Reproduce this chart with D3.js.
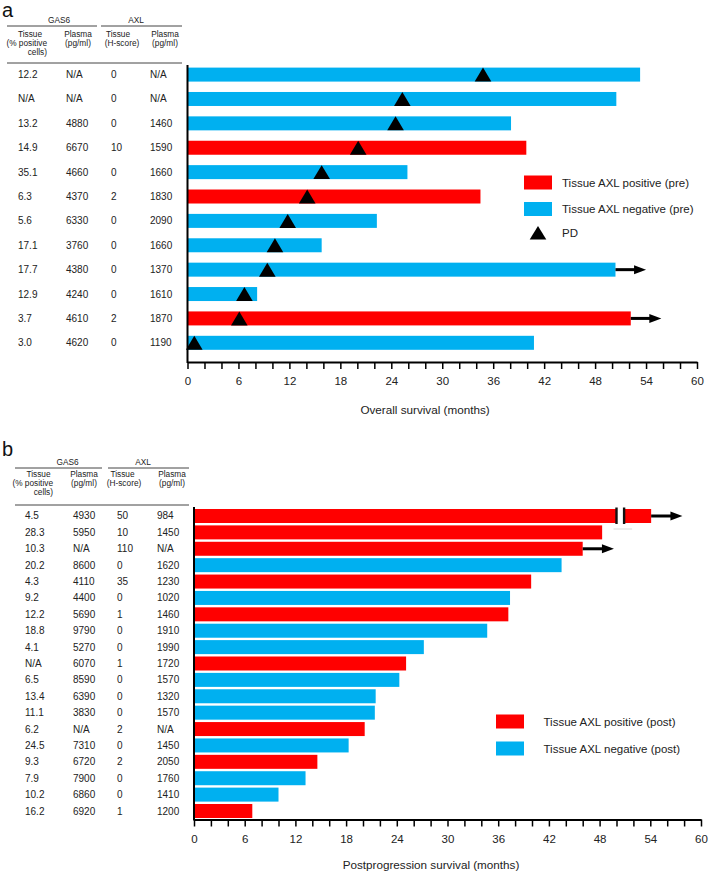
<!DOCTYPE html>
<html>
<head>
<meta charset="utf-8">
<script src="https://cdn.jsdelivr.net/npm/d3@7"></script>
<style>
  html, body { margin: 0; padding: 0; background: #fff; }
  svg { display: block; font-family: "Liberation Sans", Arial, sans-serif; }
</style>
</head>
<body>
<svg id="chart" width="709" height="872"></svg>
<script>
// ---------------- DATA ----------------
// Panel a (pre-treatment)
const gas6TissueA = ["12.2","N/A","13.2","14.9","35.1","6.3","5.6","17.1","17.7","12.9","3.7","3.0"];
const gas6PlasmaA = ["N/A","N/A","4880","6670","4660","4370","6330","3760","4380","4240","4610","4620"];
const axlTissueA  = ["0","0","0","10","0","2","0","0","0","0","2","0"];
const axlPlasmaA  = ["N/A","N/A","1460","1590","1660","1830","2090","1660","1370","1610","1870","1190"];
const osMonths    = [53.3, 50.5, 38.1, 39.9, 25.9, 34.5, 22.3, 15.8, 50.4, 8.2, 52.2, 40.8];
const pdMonths    = [34.8, 25.3, 24.5, 20.1, 15.8, 14.1, 11.8, 10.3, 9.4, 6.7, 6.1, 0.8];
const osArrowTo   = [null, null, null, null, null, null, null, null, 54.0, null, 55.8, null];

// Panel b (post-progression)
const gas6TissueB = ["4.5","28.3","10.3","20.2","4.3","9.2","12.2","18.8","4.1","N/A","6.5","13.4","11.1","6.2","24.5","9.3","7.9","10.2","16.2"];
const gas6PlasmaB = ["4930","5950","N/A","8600","4110","4400","5690","9790","5270","6070","8590","6390","3830","N/A","7310","6720","7900","6860","6920"];
const axlTissueB  = ["50","10","110","0","35","0","1","0","0","1","0","0","0","2","0","2","0","0","1"];
const axlPlasmaB  = ["984","1450","N/A","1620","1230","1020","1460","1910","1990","1720","1570","1320","1570","N/A","1450","2050","1760","1410","1200"];
const ppsMonths   = [54.1, 48.3, 46.0, 43.5, 39.9, 37.4, 37.2, 34.7, 27.2, 25.1, 24.3, 21.5, 21.4, 20.2, 18.3, 14.6, 13.2, 10.0, 6.9];
const ppsArrowTo  = [57.8, null, 49.7, null, null, null, null, null, null, null, null, null, null, null, null, null, null, null, null];
const ppsBreak    = [[50.0, 50.9], null, null, null, null, null, null, null, null, null, null, null, null, null, null, null, null, null, null];

const xTickLabels = [0, 6, 12, 18, 24, 30, 36, 42, 48, 54, 60];
const xMinorTicks = [0,2,4,6,8,10,12,14,16,18,20,22,24,26,28,30,32,34,36,38,40,42,44,46,48,50,52,54,56,58,60];

const legendA = ["Tissue AXL positive (pre)", "Tissue AXL negative (pre)", "PD"];
const legendB = ["Tissue AXL positive (post)", "Tissue AXL negative (post)"];

const RED = "#FF0000", BLUE = "#00B0F0";
// ---------------- DRAW ----------------
const svg = d3.select("#chart");
const FONT = '"Liberation Sans", Arial, sans-serif';

function header(g, cfg) {
  const t = (x, y, s, anchor) => g.append("text").attr("x", x).attr("y", y)
      .attr("text-anchor", anchor || "middle").attr("font-size", 8.3).attr("fill", "#222").text(s);
  t(cfg.gasX, cfg.y0, "GAS6");
  t(cfg.axlX, cfg.y0, "AXL");
  g.append("line").attr("x1", cfg.l1[0]).attr("x2", cfg.l1[1]).attr("y1", cfg.ly).attr("y2", cfg.ly).attr("stroke", "#444").attr("stroke-width", 1);
  g.append("line").attr("x1", cfg.l2[0]).attr("x2", cfg.l2[1]).attr("y1", cfg.ly).attr("y2", cfg.ly).attr("stroke", "#444").attr("stroke-width", 1);
  t(cfg.c1, cfg.r1, "Tissue");
  t(cfg.c1r, cfg.r2, "(% positive", "end");
  t(cfg.c1r, cfg.r3, "cells)", "end");
  t(cfg.c2, cfg.r1, "Plasma");
  t(cfg.c2, cfg.r2, "(pg/ml)");
  t(cfg.c3, cfg.r1, "Tissue");
  t(cfg.c3b, cfg.r2, "(H-score)");
  t(cfg.c4, cfg.r1, "Plasma");
  t(cfg.c4, cfg.r2, "(pg/ml)");
  g.append("line").attr("x1", cfg.l1[0]).attr("x2", cfg.l2[1]).attr("y1", cfg.by).attr("y2", cfg.by).attr("stroke", "#444").attr("stroke-width", 1);
}

function panel(cfg) {
  const g = svg.append("g");
  const n = cfg.values.length;
  const idx = d3.range(n);
  const x = d3.scaleLinear().domain([0, 60]).range([cfg.x0, cfg.x1]);
  const y = d3.scaleBand().domain(idx).range([cfg.yTop, cfg.yBot]).paddingInner(cfg.pad).paddingOuter(0);
  const bw = y.bandwidth();

  // Table columns
  const cols = [cfg.colGasT, cfg.colGasP, cfg.colAxlT, cfg.colAxlP];
  cfg.table.forEach((arr, ci) => {
    g.selectAll(null).data(arr).enter().append("text")
      .attr("x", cols[ci]).attr("y", (d, i) => y(i) + bw / 2).attr("dy", "0.35em")
      .attr("font-size", 10).attr("fill", "#222").text(d => d);
  });

  // Bars
  g.selectAll(null).data(cfg.values).enter().append("rect")
    .attr("x", x(0)).attr("y", (d, i) => y(i))
    .attr("width", d => x(d) - x(0)).attr("height", bw)
    .attr("fill", (d, i) => +cfg.status[i] > 0 ? RED : BLUE);

  // Break marks
  if (cfg.breaks) {
    cfg.breaks.forEach((b, i) => {
      if (!b) return;
      g.append("rect").attr("x", x(b[0])).attr("y", y(i) - 1).attr("width", x(b[1]) - x(b[0])).attr("height", bw + 2).attr("fill", "#fff");
      b.forEach(v => g.append("line").attr("x1", x(v)).attr("x2", x(v)).attr("y1", y(i) - 1.5).attr("y2", y(i) + bw + 1)
        .attr("stroke", "#111").attr("stroke-width", 2.4));
      g.append("line").attr("x1", x(b[0]) - 3).attr("x2", x(b[1]) + 8).attr("y1", y(i) + bw + 6).attr("y2", y(i) + bw + 6)
        .attr("stroke", "#e6e6e6").attr("stroke-width", 1.5);
    });
  }

  // Arrows
  cfg.arrows.forEach((a, i) => {
    if (a == null) return;
    const cy = y(i) + bw / 2, xs = x(cfg.values[i]), xe = x(a);
    g.append("line").attr("x1", xs).attr("x2", xe - 10).attr("y1", cy).attr("y2", cy).attr("stroke", "#000").attr("stroke-width", 3);
    g.append("path").attr("d", `M${xe},${cy} L${xe - 12},${cy - 4.5} L${xe - 12},${cy + 4.5} Z`).attr("fill", "#000");
  });

  // PD triangles
  if (cfg.pd) {
    g.selectAll(null).data(cfg.pd).enter().append("path")
      .attr("d", (d, i) => {
        const cx = x(d), t = y(i), b = y(i) + bw;
        return `M${cx},${t} L${cx + 8.3},${b} L${cx - 8.3},${b} Z`;
      })
      .attr("fill", "#000");
  }

  // Y axis line
  g.append("line").attr("x1", x(0)).attr("x2", x(0)).attr("y1", cfg.axTop).attr("y2", cfg.axY + 1)
    .attr("stroke", "#000").attr("stroke-width", 2);

  // X axis
  const ax = d3.axisBottom(x).tickValues(xMinorTicks).tickSize(7).tickSizeOuter(0).tickPadding(8)
    .tickFormat(d => xTickLabels.includes(d) ? d : "");
  const axg = g.append("g").attr("transform", `translate(0,${cfg.axY})`).call(ax);
  axg.select(".domain").attr("stroke-width", 2).attr("stroke", "#000");
  axg.selectAll(".tick line").attr("stroke-width", 1.5).attr("stroke", "#000");
  axg.selectAll(".tick text").attr("font-size", 11.5).attr("font-family", FONT).attr("fill", "#222");

  g.append("text").attr("x", cfg.titleX).attr("y", cfg.titleY).attr("dy", "0.35em").attr("text-anchor", "middle")
    .attr("font-size", 11.7).attr("fill", "#222").text(cfg.title);

  // Legend
  const L = cfg.legend;
  cfg.legendLabels.forEach((lab, i) => {
    const cy = L.y[i];
    if (i < 2) {
      g.append("rect").attr("x", L.rx).attr("y", cy - 7).attr("width", 28).attr("height", 14).attr("fill", i === 0 ? RED : BLUE);
    } else {
      const cx = L.rx + 14;
      g.append("path").attr("d", `M${cx},${cy - 7} L${cx + 8.3},${cy + 6.5} L${cx - 8.3},${cy + 6.5} Z`).attr("fill", "#000");
    }
    g.append("text").attr("x", L.tx).attr("y", cy).attr("dy", "0.35em").attr("font-size", 11.5).attr("fill", "#222").text(lab);
  });

  // Panel label
  svg.append("text").attr("x", cfg.labelPos[0]).attr("y", cfg.labelPos[1]).attr("font-size", 20).attr("fill", "#111").text(cfg.label);

  header(g, cfg.header);
}

panel({
  label: "a", labelPos: [2, 17],
  values: osMonths, pd: pdMonths, arrows: osArrowTo, status: axlTissueA,
  table: [gas6TissueA, gas6PlasmaA, axlTissueA, axlPlasmaA],
  colGasT: 18, colGasP: 66, colAxlT: 111, colAxlP: 150,
  x0: 187.5, x1: 697, yTop: 67.6, yBot: 349.8, pad: 0.426,
  axTop: 65, axY: 362,
  title: "Overall survival (months)", titleX: 425, titleY: 410,
  legendLabels: legendA, legend: { rx: 524, tx: 562, y: [182.5, 209, 233] },
  header: { gasX: 59, axlX: 136, y0: 23, l1: [7, 97], l2: [101, 182], ly: 26,
    c1: 30, c1r: 47, c2: 78, c3: 118, c3b: 122, c4: 165, r1: 37, r2: 46, r3: 55, by: 63 }
});

panel({
  label: "b", labelPos: [2, 456],
  values: ppsMonths, pd: null, arrows: ppsArrowTo, breaks: ppsBreak, status: axlTissueB,
  table: [gas6TissueB, gas6PlasmaB, axlTissueB, axlPlasmaB],
  colGasT: 25, colGasP: 73, colAxlT: 117, colAxlP: 157,
  x0: 194, x1: 701, yTop: 509, yBot: 818, pad: 0.146,
  axTop: 507, axY: 819.5,
  title: "Postprogression survival (months)", titleX: 431, titleY: 865,
  legendLabels: legendB, legend: { rx: 496, tx: 543.5, y: [721.5, 748.5] },
  header: { gasX: 67.5, axlX: 143, y0: 465, l1: [15, 102], l2: [108, 189], ly: 468,
    c1: 38.5, c1r: 53, c2: 84, c3: 122.5, c3b: 124, c4: 172, r1: 476.5, r2: 485.5, r3: 494.5, by: 505 }
});
</script>
</body>
</html>
